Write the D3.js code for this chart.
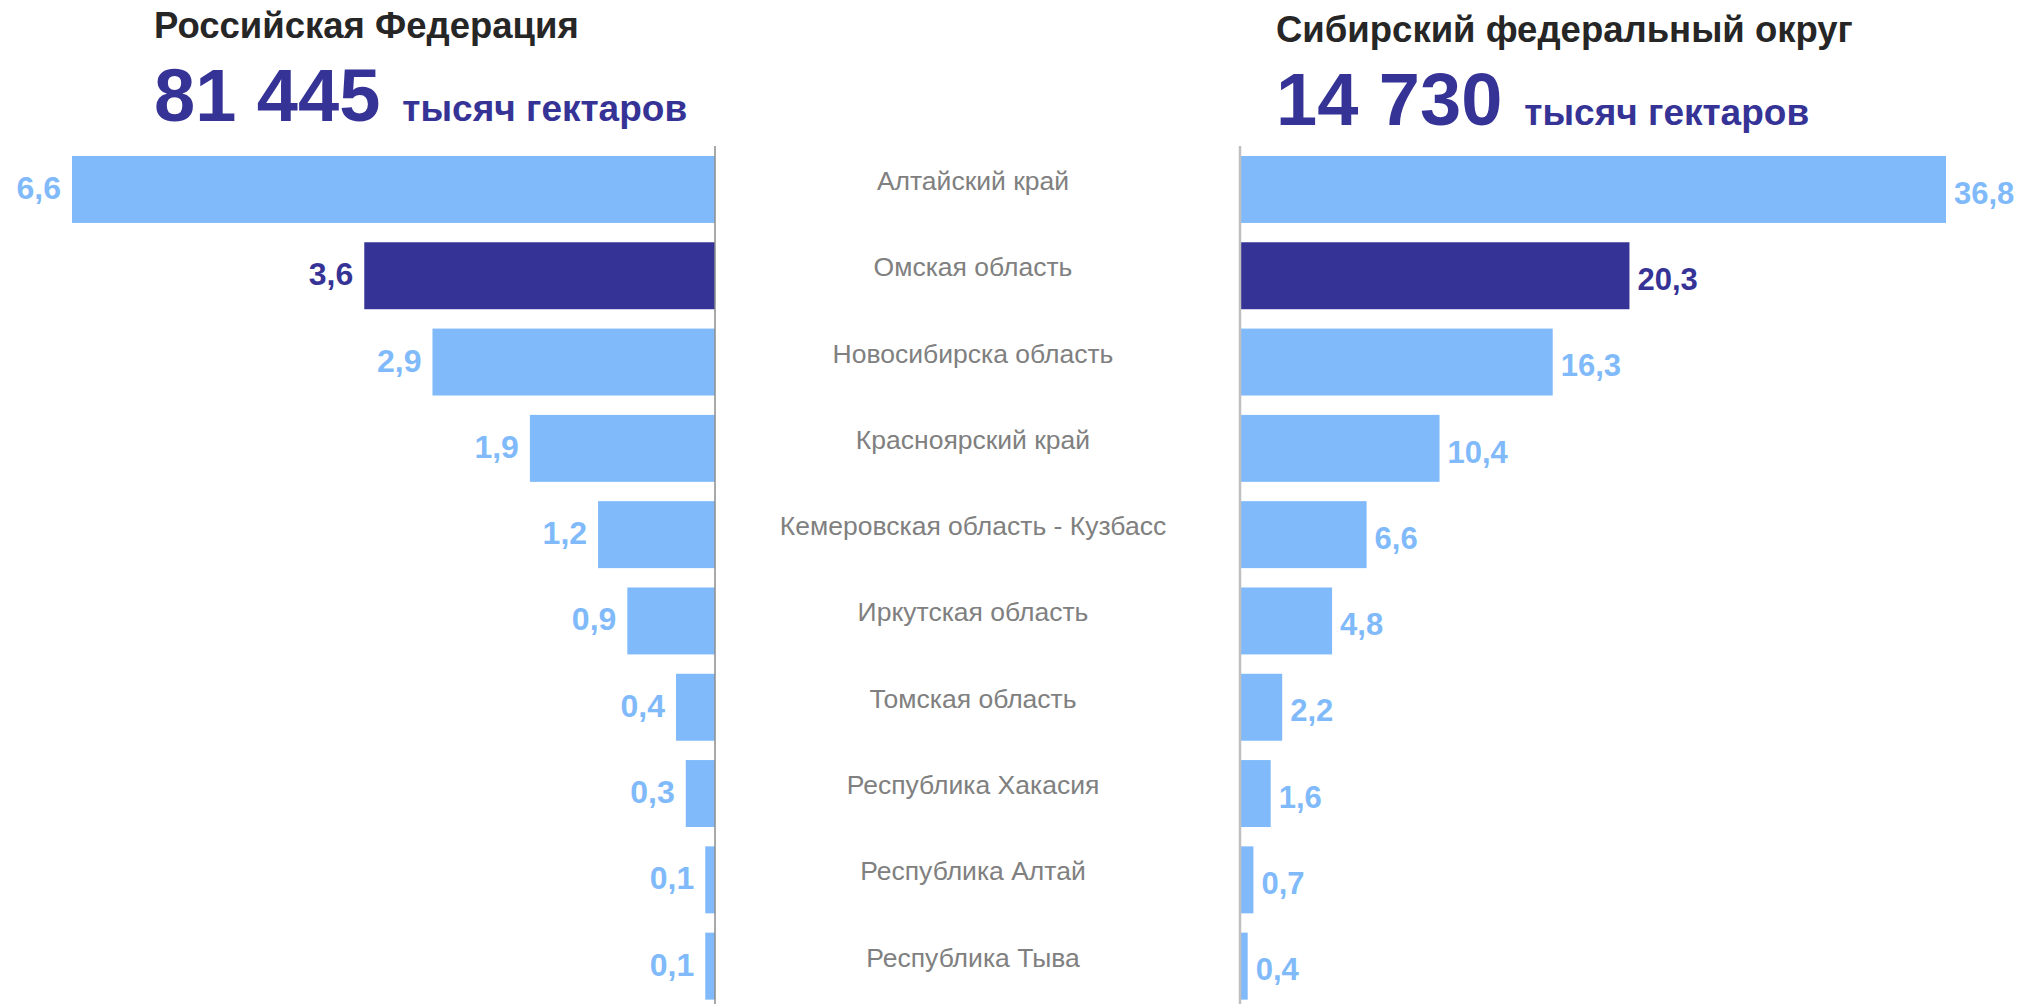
<!DOCTYPE html>
<html>
<head>
<meta charset="utf-8">
<script src="https://cdn.jsdelivr.net/npm/d3@7"></script>
<style>
  body { margin: 0; background: #fff; }
  text { font-family: Arial, "Liberation Sans", sans-serif; }
</style>
</head>
<body>
<div id="chart"></div>
<script>
// regions (rows, top to bottom)
var regions = ["Алтайский край", "Омская область", "Новосибирска область", "Красноярский край",
  "Кемеровская область - Кузбасс", "Иркутская область", "Томская область",
  "Республика Хакасия", "Республика Алтай", "Республика Тыва"];
// share of Russian Federation, %
var rfValues = [6.6, 3.6, 2.9, 1.9, 1.2, 0.9, 0.4, 0.3, 0.1, 0.1];
// share of Siberian federal district, %
var sfoValues = [36.8, 20.3, 16.3, 10.4, 6.6, 4.8, 2.2, 1.6, 0.7, 0.4];
var highlight = "Омская область";

var w = 2020, h = 1004;
var light = "#80bafa", dark = "#363396";

var svg = d3.select("#chart").append("svg")
  .attr("width", w).attr("height", h);

var y = d3.scaleBand()
  .domain(regions)
  .range([146.3, 1009.3])
  .paddingInner(0.224)
  .paddingOuter(0.112);

//left side grows to the left from the axis
var leftAxisX = 715;
var xLeft = d3.scaleLinear().domain([0, 6.6]).range([0, 643]);
//right side grows to the right
var rightAxisX = 1240;
var xRight = d3.scaleLinear().domain([0, 36.8]).range([0, 706]);

var fmt = function(v) { return d3.format(".1f")(v).replace(".", ","); };
var col = function(d) { return d === highlight ? dark : light; };

// left bars
svg.append("g").selectAll("rect")
  .data(regions)
  .enter().append("rect")
  .attr("x", function(d, i) { return leftAxisX - xLeft(rfValues[i]); })
  .attr("y", function(d) { return y(d); })
  .attr("width", function(d, i) { return xLeft(rfValues[i]); })
  .attr("height", y.bandwidth())
  .attr("fill", col);

svg.append("g").selectAll("text")
  .data(regions)
  .enter().append("text")
  .attr("x", function(d, i) { return leftAxisX - xLeft(rfValues[i]) - 11; })
  .attr("y", function(d) { return y(d) + y.bandwidth() / 2 - 2; })
  .attr("dy", "0.36em")
  .attr("text-anchor", "end")
  .attr("font-size", 32)
  .attr("font-weight", "bold")
  .attr("fill", col)
  .text(function(d, i) { return fmt(rfValues[i]); });

// right bars
svg.append("g").selectAll("rect")
  .data(regions)
  .enter().append("rect")
  .attr("x", rightAxisX)
  .attr("y", function(d) { return y(d); })
  .attr("width", function(d, i) { return xRight(sfoValues[i]); })
  .attr("height", y.bandwidth())
  .attr("fill", col);

svg.append("g").selectAll("text")
  .data(regions)
  .enter().append("text")
  .attr("x", function(d, i) { return rightAxisX + xRight(sfoValues[i]) + 8; })
  .attr("y", function(d) { return y(d) + y.bandwidth() / 2 + 3; })
  .attr("dy", "0.36em")
  .attr("font-size", 31)
  .attr("font-weight", "bold")
  .attr("fill", col)
  .text(function(d, i) { return fmt(sfoValues[i]); });

// axis lines
svg.append("line")
  .attr("x1", leftAxisX).attr("x2", leftAxisX)
  .attr("y1", 146).attr("y2", h)
  .attr("stroke", "#8c8c8c").attr("stroke-width", 1.5);
svg.append("line")
  .attr("x1", rightAxisX).attr("x2", rightAxisX)
  .attr("y1", 146).attr("y2", h)
  .attr("stroke", "#c0c0c0").attr("stroke-width", 2.5);

// region names in the middle
svg.append("g").selectAll("text")
  .data(regions)
  .enter().append("text")
  .attr("x", 973)
  .attr("y", function(d) { return y(d) + y.bandwidth() / 2 - 9; })
  .attr("dy", "0.36em")
  .attr("text-anchor", "middle")
  .attr("font-size", 26.5)
  .attr("fill", "#808080")
  .text(function(d) { return d; });

// headers
function header(x, yOff, title, total) {
  svg.append("text")
    .attr("x", x).attr("y", 38 + yOff)
    .attr("font-size", 36.5).attr("font-weight", "bold")
    .attr("fill", "#262626")
    .text(title);
  var t = svg.append("text")
    .attr("x", x).attr("y", 121 + yOff)
    .attr("font-weight", "bold")
    .attr("fill", dark);
  t.append("tspan").attr("font-size", 74).text(total);
  t.append("tspan").attr("font-size", 37).attr("dx", 22).text("тысяч гектаров");
}
header(154, 0, "Российская Федерация", "81 445");
header(1276, 4, "Сибирский федеральный округ", "14 730");
</script>
</body>
</html>
